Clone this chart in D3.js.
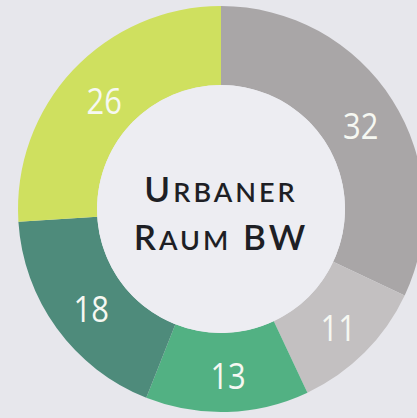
<!DOCTYPE html>
<html><head><meta charset="utf-8">
<script src="https://cdn.jsdelivr.net/npm/d3@7"></script>
<style>
html,body{margin:0;padding:0;background:#e7e7ec;overflow:hidden;}
</style></head>
<body>
<script>
const categories = ["A","B","C","D","E"];
const values = [32, 11, 13, 18, 26];
const labels = ["32","11","13","18","26"];
const colors = ["#a9a6a7","#c3c0c1","#52b183","#4e8b7b","#cfe05f"];
const titleLines = ["Urbaner","Raum BW"];

const W = 417, H = 418;
const cx = 221, cy = 209, outerR = 203, innerR = 124;

const svg = d3.select("body").append("svg").attr("width", W).attr("height", H);
svg.append("rect").attr("width", W).attr("height", H).attr("fill", "#e7e7ec");

const g = svg.append("g").attr("transform", `translate(${cx},${cy})`);
const pie = d3.pie().sort(null).value(d => d)(values);
const arc = d3.arc().innerRadius(innerR).outerRadius(outerR);
const labelArc = d3.arc().innerRadius(163).outerRadius(163);

g.selectAll("path.seg").data(pie).join("path")
  .attr("class","seg")
  .attr("d", arc)
  .attr("fill", (d,i) => colors[i]);

g.append("circle").attr("r", innerR).attr("fill", "#ededf2");

g.selectAll("text.lbl").data(pie).join("text")
  .attr("class","lbl")
  .attr("transform", d => { const [x,y] = labelArc.centroid(d); return `translate(${x+2},${y+3}) scale(0.86,1)`; })
  .attr("text-anchor","middle")
  .attr("dominant-baseline","central")
  .attr("font-family","'Open Sans', sans-serif")
  .attr("font-weight", 500)
  .attr("font-size", 36)
  .attr("fill","#f6f8f2")
  .text((d,i) => labels[i]);

// manual small caps: split each line into runs of capital / lower-case letters
function runs(s) {
  const out = [];
  for (const ch of s) {
    const cap = ch !== ch.toLowerCase() || ch === " ";
    const last = out[out.length-1];
    if (last && last.cap === cap) last.t += ch; else out.push({t: ch, cap});
  }
  return out;
}
titleLines.forEach((line, li) => {
  const t = g.append("text")
    .attr("text-anchor","middle")
    .attr("y", li === 0 ? -7 : 41)
    .attr("font-family","Lato, 'Open Sans', sans-serif")
    .attr("font-weight", 600)
    .attr("letter-spacing", 3)
    .attr("fill","#1e1f25");
  t.selectAll("tspan").data(runs(line)).join("tspan")
    .attr("font-size", d => d.cap ? 35 : 27)
    .text(d => d.t.toUpperCase());
});
</script>
</body></html>
